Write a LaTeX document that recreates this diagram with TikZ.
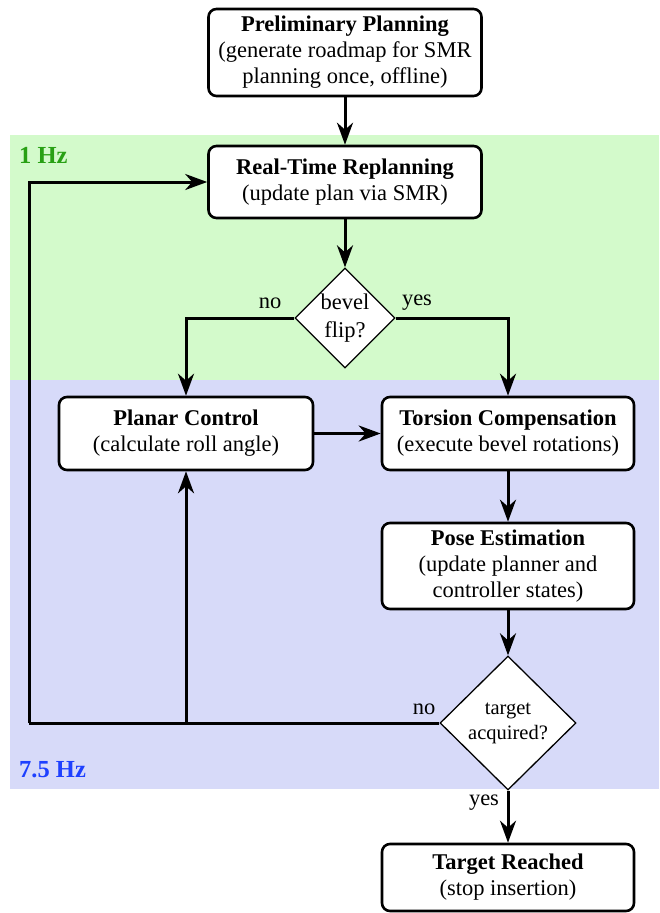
\documentclass[tikz,border=0pt]{standalone}
\usepackage{fontspec}
\setmainfont{Liberation Serif}
\usetikzlibrary{shapes.geometric,arrows.meta}
\definecolor{bandgreen}{RGB}{211,250,203}
\definecolor{bandblue}{RGB}{215,218,249}
\definecolor{txtgreen}{RGB}{40,160,20}
\definecolor{txtblue}{RGB}{30,64,255}
\tikzset{
  box/.style={draw=black, line width=2.6pt, rounded corners=8pt, fill=white, align=center,
    inner sep=0pt, font=\fontsize{22.5}{26}\selectfont},
  decision/.style={draw=black, line width=1.3pt, diamond, aspect=1, fill=white, align=center,
    inner sep=0pt, font=\fontsize{22.5}{28}\selectfont},
  conn/.style={line width=3pt, -{Stealth[length=22pt,width=16pt,inset=7pt]}},
  plain/.style={line width=3pt},
  lbl/.style={font=\fontsize{22.5}{26}\selectfont, inner sep=0pt},
  band/.style={font=\bfseries\fontsize{24.5}{28}\selectfont, inner sep=0pt, anchor=base west}
}
\begin{document}
\begin{tikzpicture}[x=1pt,y=-1pt]
\useasboundingbox (0,0) rectangle (659,913);
\fill[white] (0,0) rectangle (659,913);
% bands
\fill[bandgreen] (10,135) rectangle (659,380);
\fill[bandblue] (10,380) rectangle (659,789);
\node[band, text=txtgreen] (hz1) at (19,163) {1 Hz};
\node[band, text=txtblue] (hz75) at (19,777) {7.5 Hz};
% nodes
\node[box, minimum width=273pt, minimum height=87pt] (prelim) at (345,52.5)
  {\textbf{Preliminary Planning}\\(generate roadmap for SMR\\planning once, offline)};
\node[box, minimum width=273pt, minimum height=72pt] (rt) at (345,182)
  {\textbf{Real-Time Replanning}\\(update plan via SMR)};
\node[decision, minimum width=100pt, minimum height=100pt] (bevel) at (345,318)
  {bevel\\flip?};
\node[box, minimum width=254pt, minimum height=73pt] (planar) at (186,433.5)
  {\textbf{Planar Control}\\(calculate roll angle)};
\node[box, minimum width=252pt, minimum height=73pt] (torsion) at (508,433.5)
  {\textbf{Torsion Compensation}\\(execute bevel rotations)};
\node[box, minimum width=252pt, minimum height=86pt] (pose) at (508,566)
  {\textbf{Pose Estimation}\\(update planner and\\controller states)};
\node[decision, minimum width=136pt, minimum height=134pt,
  font=\fontsize{20.5}{25}\selectfont] (target) at (508,723)
  {target\\acquired?};
\node[box, minimum width=252pt, minimum height=67pt] (reached) at (508,877.5)
  {\textbf{Target Reached}\\(stop insertion)};
% connectors
\draw[conn] (prelim.south) -- (rt.north);
\draw[conn] (rt.south) -- (bevel.north);
\draw[conn] (bevel.west) -| (planar.north);
\draw[conn] (bevel.east) -| (torsion.north);
\draw[conn] (planar.east) -- (torsion.west);
\draw[conn] (torsion.south) -- (pose.north);
\draw[conn] (pose.south) -- (target.north);
\draw[conn] (target.south) -- (reached.north);
\coordinate (loopbot) at (29,723);
\coordinate (junc) at (planar.south |- target.west);
\draw[plain] (target.west) -- (loopbot);
\draw[conn, rounded corners=0pt] (loopbot) |- (rt.west);
\draw[conn] (junc) -- (planar.south);
% labels
\node[lbl] (no1) at (270,303) {no};
\node[lbl] (yes1) at (417,303) {yes};
\node[lbl] (no2) at (424,709) {no};
\node[lbl] (yes2) at (484,803) {yes};
\end{tikzpicture}
\end{document}
